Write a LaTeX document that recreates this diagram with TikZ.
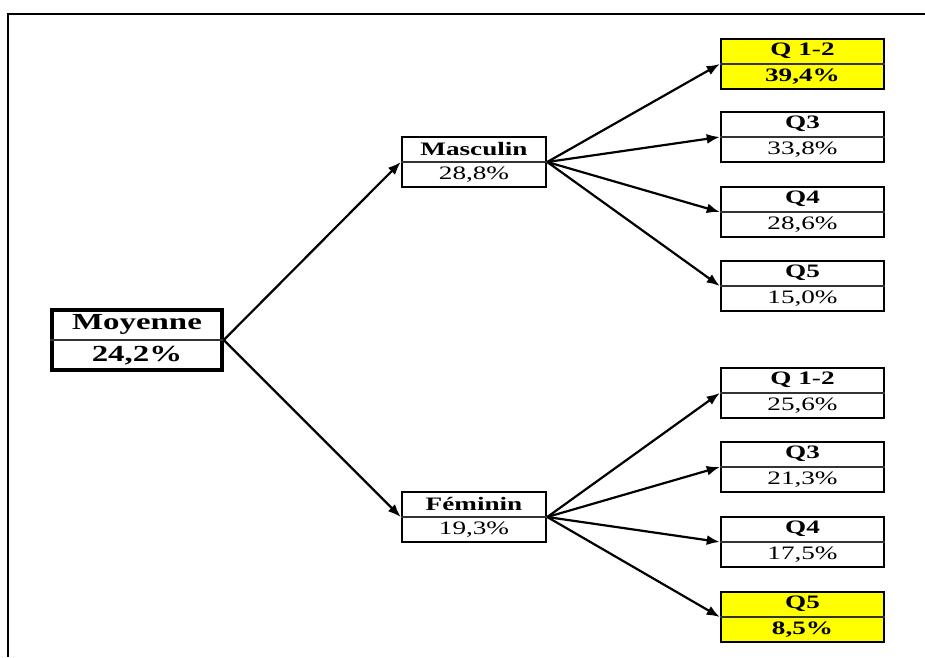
\documentclass[tikz,border=0pt]{standalone}
\usepackage{fontspec}
\setmainfont{Liberation Serif}[FakeStretch=1.43]
\usetikzlibrary{arrows.meta,calc}
\definecolor{hl}{HTML}{FFFF00}
\tikzset{
  box/.style={draw=black, fill=white, line width=2.5pt, minimum width=163pt, minimum height=50pt, inner sep=0pt},
  midbox/.style={box, minimum width=144pt},
  hlbox/.style={box, fill=hl},
  bigbox/.style={box, line width=3.5pt, minimum width=170pt, minimum height=60pt},
  divider/.style={draw=black!80, line width=1.1pt},
  txt/.style={inner sep=0pt, font=\fontsize{19}{21}\selectfont},
  bigtxt/.style={inner sep=0pt, font=\fontsize{23}{25}\selectfont\bfseries},
  arr/.style={draw=black, line width=2.2pt, -{Latex[length=13pt,width=10pt]}},
  frame/.style={draw=black, line width=2.2pt}
}
\newcommand\treebox[6]{%
  \node[#3] (#1) at (#2) {};
  \draw[divider] (#1.west) -- (#1.east);
  \node[txt] (#1-t) at ($(#1.center)!0.5!(#1.north)$) {\bfseries #4};
  \node[txt] (#1-v) at ($(#1.center)!0.5!(#1.south)$) {#6#5};
}
\begin{document}
\begin{tikzpicture}[x=1pt,y=-1pt]
\useasboundingbox (0,0) rectangle (925,657);
\coordinate (f1) at (925,14);
\coordinate (f2) at (8,14);
\coordinate (f3) at (8,657);
\draw[frame] (f1) -- (f2) -- (f3);

% root
\node[bigbox] (moy) at (137,340) {};
\draw[divider] (moy.west) -- (moy.east);
\node[bigtxt] (moy-t) at ($(moy.center)!0.5!(moy.north)$) {Moyenne};
\node[bigtxt] (moy-v) at ($(moy.center)!0.5!(moy.south)$) {24,2\%};

\treebox{mas}{474,162}{midbox}{Masculin}{28,8\%}{}
\treebox{fem}{474,517}{midbox}{Féminin}{19,3\%}{}

\treebox{m1}{802.5,64}{hlbox}{Q 1-2}{39,4\%}{\bfseries}
\treebox{m3}{802.5,137}{box}{Q3}{33,8\%}{}
\treebox{m4}{802.5,212}{box}{Q4}{28,6\%}{}
\treebox{m5}{802.5,286}{box}{Q5}{15,0\%}{}

\treebox{f1b}{802.5,393}{box}{Q 1-2}{25,6\%}{}
\treebox{f3b}{802.5,467}{box}{Q3}{21,3\%}{}
\treebox{f4b}{802.5,542}{box}{Q4}{17,5\%}{}
\treebox{f5b}{802.5,617}{hlbox}{Q5}{8,5\%}{\bfseries}

\draw[arr] (moy.east) -- (mas.west);
\draw[arr] (moy.east) -- (fem.west);
\foreach \t in {m1,m3,m4,m5} \draw[arr] (mas.east) -- (\t.west);
\foreach \t in {f1b,f3b,f4b,f5b} \draw[arr] (fem.east) -- (\t.west);
\end{tikzpicture}
\end{document}
